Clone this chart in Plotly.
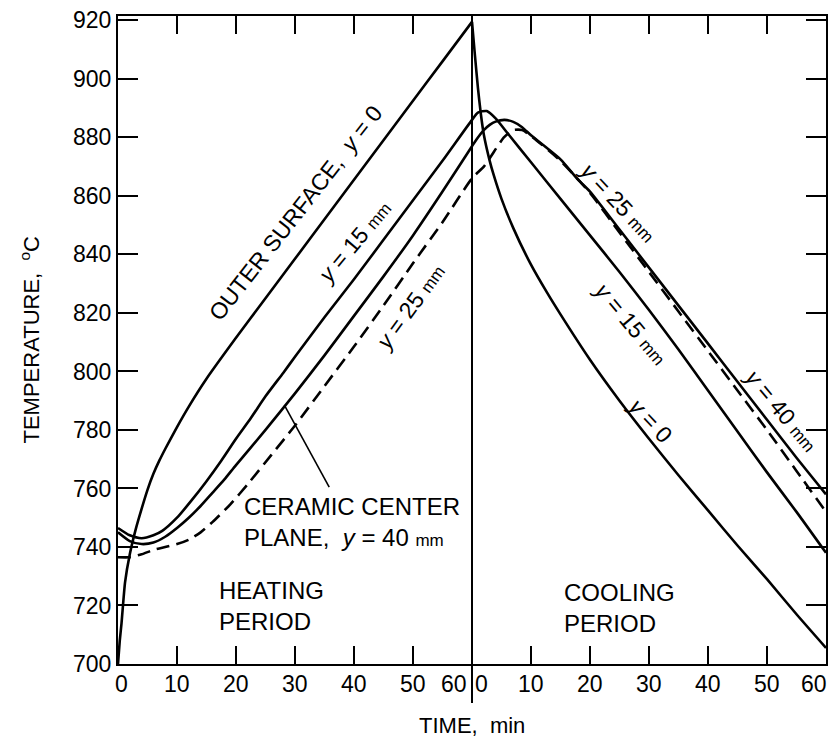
import plotly.graph_objects as go

# ---------------- data ----------------
# Heating period: time in min from start of heating (0..60)
heat_time_y0 = [0, 0.3, 0.6, 1.2, 2, 3, 4, 5, 6, 7, 8, 10, 12, 15, 20, 25, 30, 35, 40, 45, 50, 55, 60]
heat_temp_y0 = [700, 708, 714, 728, 737.5, 746, 753, 759.5, 765, 769.5, 773.5, 781, 788, 797.5,
                811.5, 825, 838.5, 852, 865.5, 879, 892.5, 906, 919.5]

heat_time_y15 = [0, 2, 4, 6, 7.5, 10, 12.5, 15, 17.5, 20, 22.5, 25, 28, 30, 35, 40, 45, 50, 55, 60]
heat_temp_y15 = [746.5, 744, 743, 744, 745.5, 750, 756, 762.5, 769.5, 777, 784, 791.5, 799.5, 805,
                 818.5, 831.5, 845, 858.5, 872, 886]

heat_time_y25 = [0, 2, 4, 6, 8, 10, 12, 14, 16, 19, 22, 26, 30, 35, 40, 45, 50, 55, 60]
heat_temp_y25 = [736.5, 736.5, 737.5, 739, 740, 741, 742.5, 745, 748.5, 754.5, 761.5, 771.5, 781.5,
                 795, 808.5, 822.5, 837, 851, 866]

heat_time_y40 = [0, 2, 4, 6, 8, 10, 12, 14, 16, 18, 20, 25, 30, 35, 40, 45, 50, 55, 60]
heat_temp_y40 = [745, 742, 741, 741.5, 743.5, 746.5, 750, 754, 758.5, 763, 768, 780, 792.5,
                 805.5, 819, 832.5, 846.5, 861.5, 877]

# Cooling period: time in min from start of cooling (0..60)
cool_time_y0 = [0, 0.5, 1, 1.5, 2, 3, 3.7, 5, 7, 10, 12.7, 15, 20, 25, 30, 35, 40, 45, 50, 55, 60]
cool_temp_y0 = [919.5, 908, 897, 888, 881, 872, 867, 859, 849, 836.5, 827, 819.5, 804, 790, 777,
                764.5, 752.5, 740.5, 729, 717, 705.5]

cool_time_y15 = [1, 2.5, 4, 6, 10, 15, 20, 25, 30, 35, 40, 45, 50, 55, 60]
cool_temp_y15 = [888.5, 889, 886.5, 881.5, 871.5, 859, 846.5, 834, 821, 807.5, 793.5, 779.5,
                 765.5, 752, 738]

cool_time_y25 = [2, 3.2, 5.4, 7, 8.5, 10, 15, 20, 25, 30, 35, 40, 45, 50, 55, 60]
cool_temp_y25 = [870, 873.5, 880, 882.5, 882.5, 880.5, 872, 861, 847.5, 834, 820.5, 807, 793.5,
                 780, 766, 752]

cool_time_y40 = [1, 2, 3, 4, 5.5, 7, 8.5, 10, 12, 15, 18, 20, 25, 30, 35, 40, 45, 50, 55, 60]
cool_temp_y40 = [880, 882.5, 884.3, 885.4, 886, 885.3, 883.5, 880.7, 877.5, 872.5, 865.5, 861.5,
                 848.5, 835.5, 822.5, 809.5, 796.5, 783.5, 770.5, 758]

time_tick_values = [0, 10, 20, 30, 40, 50, 60]
time_tick_labels = ["0", "10", "20", "30", "40", "50", "60"]
temp_tick_values = [700, 720, 740, 760, 780, 800, 820, 840, 860, 880, 900, 920]

PERIOD = 60  # length of each period, min (cooling axis starts after heating)

FONT = "Liberation Sans"
BLACK = "black"


def cool_x(ts):
    return [PERIOD + t for t in ts]


fig = go.Figure()

# outer surface: two traces (sharp corner at switch-over)
fig.add_trace(go.Scatter(x=heat_time_y0, y=heat_temp_y0, mode="lines",
                         line=dict(color=BLACK, width=2.6, shape="spline", smoothing=0.6)))
fig.add_trace(go.Scatter(x=cool_x(cool_time_y0), y=cool_temp_y0, mode="lines",
                         line=dict(color=BLACK, width=2.6, shape="spline", smoothing=0.6)))

for ht, hT, ct, cT, dash in [
    (heat_time_y15, heat_temp_y15, cool_time_y15, cool_temp_y15, "solid"),
    (heat_time_y40, heat_temp_y40, cool_time_y40, cool_temp_y40, "solid"),
    (heat_time_y25, heat_temp_y25, cool_time_y25, cool_temp_y25, "13px,7px"),
]:
    fig.add_trace(go.Scatter(x=ht + cool_x(ct), y=hT + cT, mode="lines",
                             line=dict(color=BLACK, width=2.6, dash=dash,
                                       shape="spline", smoothing=0.6)))

# separator between heating and cooling periods
fig.add_shape(type="line", xref="x", yref="paper", x0=PERIOD, x1=PERIOD, y0=-0.06, y1=1,
              line=dict(color=BLACK, width=2))

# pointer for "CERAMIC CENTER PLANE"
pointer_x = [28.2, 35.8]
pointer_y = [788.5, 760.5]
fig.add_shape(type="line", xref="x", yref="y", x0=pointer_x[0], y0=pointer_y[0],
              x1=pointer_x[1], y1=pointer_y[1], line=dict(color=BLACK, width=1.6))

annotations = []
# x tick labels (two 0..60 scales)
shifts_heat = [3, 0, 0, 0, 0, 0, -18]
shifts_cool = [9, 0, 0, 0, 0, 0, -12]
for v, lab, s in zip(time_tick_values, time_tick_labels, shifts_heat):
    annotations.append(dict(x=v, y=0, xref="x", yref="paper", text=lab, showarrow=False,
                            xshift=s, yshift=-20, yanchor="middle", font=dict(size=23)))
for v, lab, s in zip(time_tick_values, time_tick_labels, shifts_cool):
    annotations.append(dict(x=PERIOD + v, y=0, xref="x", yref="paper", text=lab, showarrow=False,
                            xshift=s, yshift=-20, yanchor="middle", font=dict(size=23)))

mm = "<span style='font-size:17px'>mm</span>"
labels = [
    (30.1, 854.2, "OUTER SURFACE,  <i>y</i> = 0", -52),
    (40.0, 844.3, "<i>y</i> = 15 " + mm, -50),
    (49.5, 822.0, "<i>y</i> = 25 " + mm, -54),
    (84.8, 857.9, "<i>y</i> = 25 " + mm, 47),
    (86.9, 816.6, "<i>y</i> = 15 " + mm, 50),
    (90.2, 783.4, "<i>y</i> = 0", 47),
    (112.4, 786.8, "<i>y</i> = 40 " + mm, 50),
]
for x, y, txt, ang in labels:
    annotations.append(dict(x=x, y=y, xref="x", yref="y", text=txt, textangle=ang,
                            showarrow=False, font=dict(size=23)))

annotations += [
    dict(x=21.1, y=748.4, xref="x", yref="y", text="CERAMIC CENTER<br>PLANE,  <i>y</i> = 40 " + mm,
         showarrow=False, xanchor="left", align="left", font=dict(size=24)),
    dict(x=16.7, y=719.8, xref="x", yref="y", text="HEATING<br>PERIOD",
         showarrow=False, xanchor="left", align="left", font=dict(size=24)),
    dict(x=75.2, y=719.1, xref="x", yref="y", text="COOLING<br>PERIOD",
         showarrow=False, xanchor="left", align="left", font=dict(size=24)),
    dict(x=0.5, y=0, xref="paper", yref="paper", text="TIME,  min", showarrow=False,
         yshift=-61, yanchor="middle", font=dict(size=22)),
    dict(x=-0.125, y=0.5, xref="paper", yref="paper", text="TEMPERATURE,  <sup>o</sup>C",
         showarrow=False, textangle=-90, xanchor="center", yanchor="middle", font=dict(size=22)),
]

fig.update_layout(
    width=832, height=740,
    margin=dict(l=118, r=4, t=16, b=76),
    paper_bgcolor="white", plot_bgcolor="white",
    showlegend=False,
    font=dict(family=FONT, color=BLACK, size=22),
    annotations=annotations,
    xaxis=dict(range=[0, 2 * PERIOD], tickvals=list(range(0, 121, 10)), showticklabels=False,
               ticks="inside", ticklen=18, tickwidth=2, tickcolor=BLACK,
               showline=True, linecolor=BLACK, linewidth=2, mirror="ticks",
               showgrid=False, zeroline=False, fixedrange=True),
    yaxis=dict(range=[700, 921.5], tickvals=temp_tick_values, ticks="inside", ticklen=20,
               tickwidth=2, tickcolor=BLACK, tickfont=dict(size=23),
               showline=True, linecolor=BLACK, linewidth=2, mirror="ticks",
               showgrid=False, zeroline=False, fixedrange=True),
)

fig.write_html("out.html", config={"displayModeBar": False},
               post_script="document.body.style.margin='0';document.body.style.overflow='hidden';")
